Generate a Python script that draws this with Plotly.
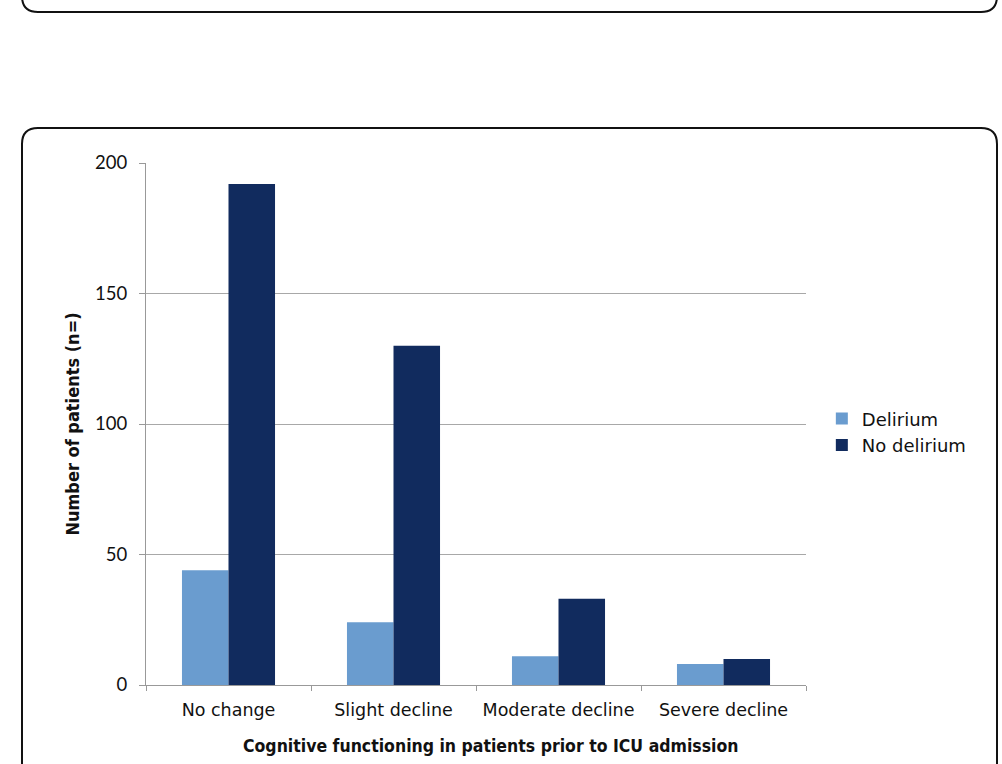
import plotly.graph_objects as go

categories = ["No change", "Slight decline", "Moderate decline", "Severe decline"]
delirium = [44, 24, 11, 8]
no_delirium = [192, 130, 33, 10]
series_names = ["Delirium", "No delirium"]
y_ticks = [0, 50, 100, 150, 200]
x_title = "Cognitive functioning in patients prior to ICU admission"
y_title = "Number of patients (n=)"

W, H = 1002, 764
L, R, T, B = 146, 806, 163, 685  # plot area in pixels


def px(x):
    return (x - L) / (R - L)


def py(y):
    return (B - y) / (B - T)


def rounded_rect(x0, y0, x1, y1, r):
    pts = [
        ("M", [(x0 + r, y0)]),
        ("L", [(x1 - r, y0)]),
        ("Q", [(x1, y0), (x1, y0 + r)]),
        ("L", [(x1, y1 - r)]),
        ("Q", [(x1, y1), (x1 - r, y1)]),
        ("L", [(x0 + r, y1)]),
        ("Q", [(x0, y1), (x0, y1 - r)]),
        ("L", [(x0, y0 + r)]),
        ("Q", [(x0, y0), (x0 + r, y0)]),
    ]
    s = ""
    for cmd, ps in pts:
        s += cmd + " " + " ".join(f"{px(a):.5f},{py(b):.5f}" for a, b in ps) + " "
    return s + "Z"


fig = go.Figure()
fig.add_trace(go.Bar(x=categories, y=delirium, name=series_names[0],
                     marker=dict(color="#6a9ccf", line=dict(width=0))))
fig.add_trace(go.Bar(x=categories, y=no_delirium, name=series_names[1],
                     marker=dict(color="#112b5e", line=dict(width=0))))

fig.update_layout(
    width=W, height=H,
    margin=dict(l=L, r=W - R, t=T, b=H - B, pad=0),
    paper_bgcolor="white", plot_bgcolor="white",
    barmode="group", bargap=0.436, bargroupgap=0,
    font=dict(family="DejaVu Sans", color="#111111"),
    showlegend=True,
    legend=dict(x=1.024, xanchor="left", y=0.485, yanchor="middle",
                font=dict(size=18, family="DejaVu Sans", color="#111111"),
                bgcolor="rgba(0,0,0,0)", itemsizing="constant",
                tracegroupgap=0),
    xaxis=dict(
        tickfont=dict(size=17.5, family="DejaVu Sans"),
        tickson="boundaries", ticks="outside", ticklen=5, tickcolor="#999999",
        ticklabelstandoff=9,
        showline=True, linecolor="#999999", linewidth=1,
        showgrid=False, fixedrange=True,
    ),
    yaxis=dict(
        title=dict(text="<b>" + y_title + "</b>",
                   font=dict(size=18, family="DejaVu Sans Condensed"), standoff=10),
        range=[0, 200], tickvals=y_ticks,
        tickfont=dict(size=18.5, family="Lato"),
        ticks="outside", ticklen=6, tickcolor="#999999",
        ticklabelstandoff=8,
        showline=True, linecolor="#999999", linewidth=1,
        showgrid=True, gridcolor="#a8a8a8", gridwidth=1,
        zeroline=False, fixedrange=True,
    ),
    annotations=[
        dict(text="<b>" + x_title + "</b>", xref="paper", yref="paper",
             x=px(491), y=py(746), xanchor="center", yanchor="middle",
             showarrow=False,
             font=dict(size=17.5, family="DejaVu Sans Condensed", color="#111111")),
    ],
    shapes=[
        dict(type="path", xref="paper", yref="paper",
             path=rounded_rect(22, -40, 997, 12, 16),
             line=dict(color="#111111", width=2), fillcolor="rgba(0,0,0,0)", layer="above"),
        dict(type="path", xref="paper", yref="paper",
             path=rounded_rect(22, 128, 997, 800, 16),
             line=dict(color="#111111", width=2), fillcolor="rgba(0,0,0,0)", layer="above"),
    ],
)

fig.write_html("out.html", config={"displayModeBar": False},
               post_script="document.body.style.margin='0';document.body.style.overflow='hidden';")
